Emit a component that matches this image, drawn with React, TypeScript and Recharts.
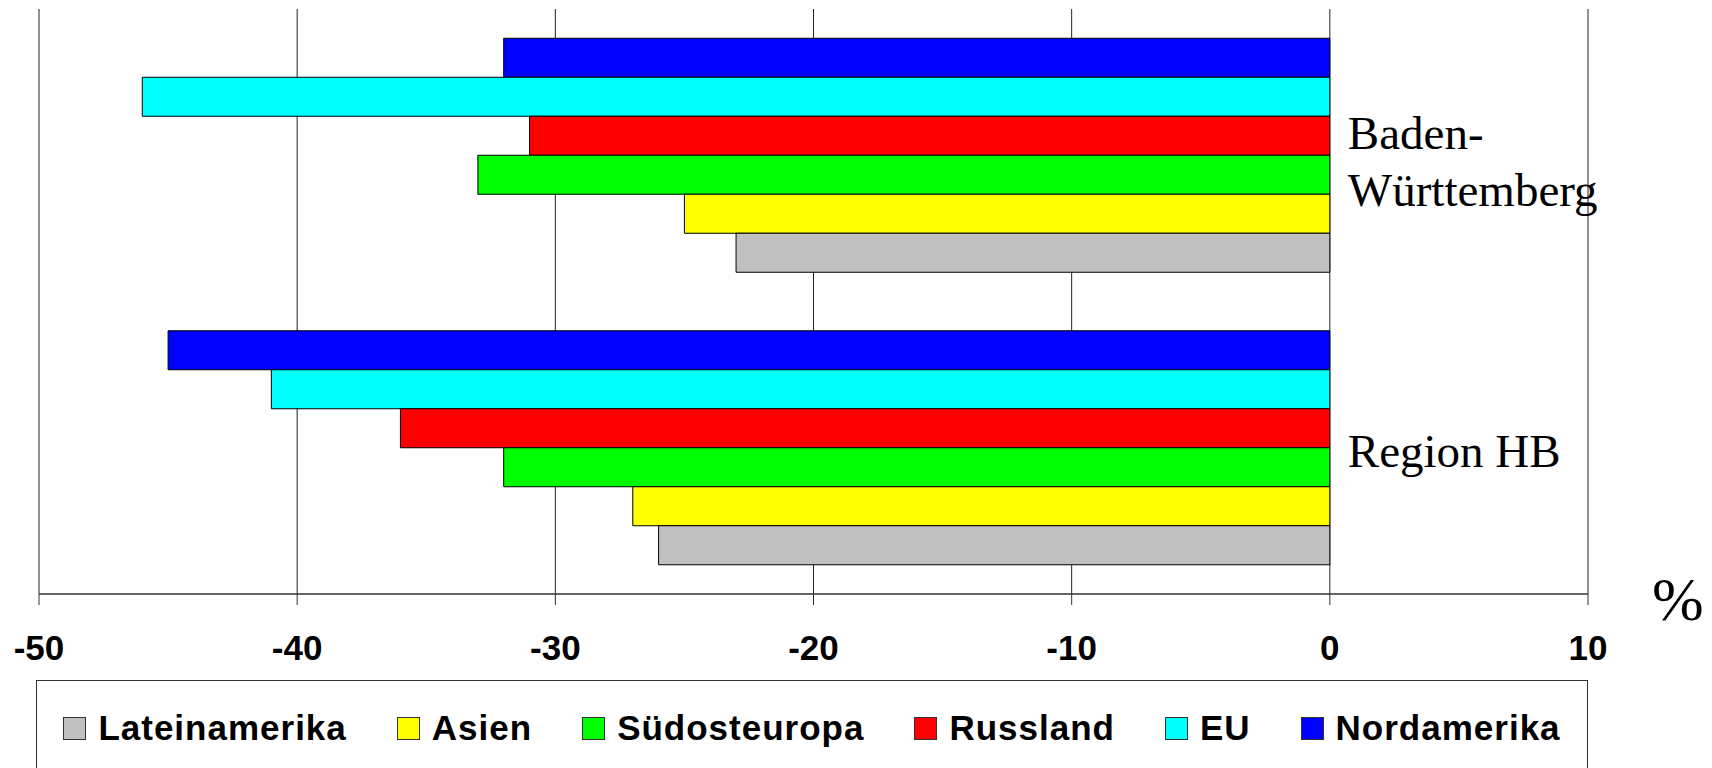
import React from 'react';
import { BarChart, Bar, XAxis, YAxis, CartesianGrid, Legend, ReferenceDot, Label } from 'recharts';

const regions = ['Baden-Württemberg', 'Region HB'];
const xTicks = [-50, -40, -30, -20, -10, 0, 10];

const lateinamerika = [-23, -26];
const asien = [-25, -27];
const suedosteuropa = [-33, -32];
const russland = [-31, -36];
const eu = [-46, -41];
const nordamerika = [-32, -45];

// legend order (left to right); bars are drawn in reverse so Nordamerika is on top
const series = [
  { key: 'Lateinamerika', values: lateinamerika, color: '#C0C0C0' },
  { key: 'Asien', values: asien, color: '#FFFF00' },
  { key: 'Südosteuropa', values: suedosteuropa, color: '#00FF00' },
  { key: 'Russland', values: russland, color: '#FF0000' },
  { key: 'EU', values: eu, color: '#00FFFF' },
  { key: 'Nordamerika', values: nordamerika, color: '#0000FF' },
];

const data = regions.map((region, i) => {
  const row: any = { region };
  series.forEach((s) => (row[s.key] = s.values[i]));
  return row;
});

const serif = "'Liberation Serif', 'Times New Roman', serif";
const sans = "'Liberation Sans', Arial, sans-serif";

const catLabel = (lines: string[], offsets: number[]) => (props: any) => {
  const vb = props.viewBox || {};
  const cx = vb.x + (vb.width || 0) / 2;
  const cy = vb.y + (vb.height || 0) / 2;
  return (
    <g>
      {lines.map((l, i) => (
        <text key={i} x={cx + 18} y={cy + offsets[i]} fontFamily={serif} fontSize={47} fill="#000">
          {l}
        </text>
      ))}
    </g>
  );
};

const LegendBox = () => (
  <div
    style={{
      display: 'flex',
      justifyContent: 'center',
      alignItems: 'center',
      paddingTop: 27,
      fontFamily: sans,
      fontWeight: 'bold',
      fontSize: 35,
      letterSpacing: 1,
      color: '#000',
    }}
  >
    {series.map((s, i) => (
      <div key={s.key} style={{ display: 'flex', alignItems: 'center', height: 40, marginLeft: i === 0 ? 0 : 50 }}>
        <span
          style={{
            display: 'inline-block',
            width: 21,
            height: 21,
            background: s.color,
            border: '1.5px solid #333',
            marginRight: 12,
          }}
        />
        <span>{s.key}</span>
      </div>
    ))}
  </div>
);

const App = () => {
  return (
    <div style={{ position: 'absolute', left: 0, top: 0, width: 1712, height: 768, overflow: 'hidden', background: '#fff' }}>
      <BarChart
        width={1712}
        height={768}
        data={data}
        layout="vertical"
        margin={{ top: 9, right: 124, bottom: 104, left: 39 }}
        barCategoryGap="10%"
        barGap={0}
      >
        <CartesianGrid horizontal={false} vertical={true} stroke="#222" strokeWidth={1} />
        <XAxis
          type="number"
          domain={[-50, 10]}
          ticks={xTicks}
          interval={0}
          height={70}
          tickSize={11}
          tickMargin={30}
          axisLine={{ stroke: '#333', strokeWidth: 1.5 }}
          tickLine={{ stroke: '#333', strokeWidth: 1 }}
          tick={{ fill: '#000', fontFamily: sans, fontWeight: 'bold', fontSize: 35 }}
        >
          <Label value="%" position="right" offset={64} dy={-31} fontSize={62} fontFamily={serif} fill="#000" />
        </XAxis>
        <YAxis type="category" dataKey="region" hide />
        {[...series].reverse().map((s) => (
          <Bar key={s.key} dataKey={s.key} fill={s.color} stroke="#000" strokeWidth={1} isAnimationActive={false} />
        ))}
        <ReferenceDot
          x={0}
          y={regions[0]}
          r={1}
          fill="none"
          stroke="none"
          label={catLabel(['Baden-', 'Württemberg'], [-6, 51])}
        />
        <ReferenceDot x={0} y={regions[1]} r={1} fill="none" stroke="none" label={catLabel(['Region HB'], [19])} />
        <Legend
          verticalAlign="middle"
          align="center"
          content={() => <LegendBox />}
          wrapperStyle={{
            position: 'absolute',
            left: 36,
            top: 680,
            width: 1552,
            height: 120,
            border: '1.5px solid #333',
            boxSizing: 'border-box',
            background: '#fff',
          }}
        />
      </BarChart>
    </div>
  );
};

export default App;
